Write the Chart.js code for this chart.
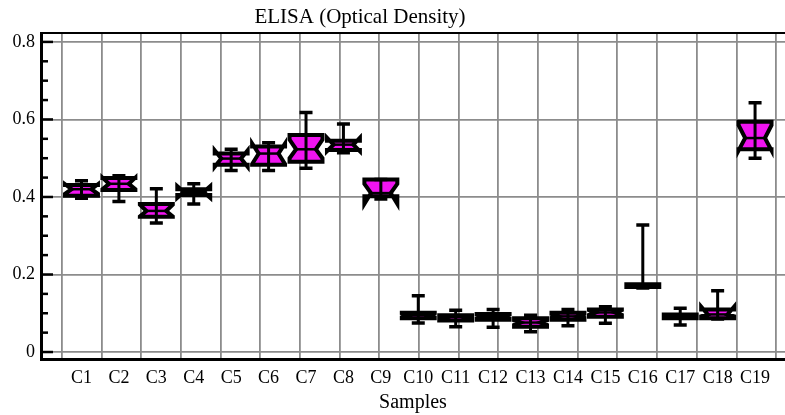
<!DOCTYPE html>
<html>
<head>
<meta charset="utf-8">
<script src="https://cdn.jsdelivr.net/npm/chart.js@4/dist/chart.umd.min.js"></script>
<style>
  html, body { margin: 0; padding: 0; background: #fff; }
  #wrap { width: 785px; height: 415px; }
</style>
</head>
<body>
<div id="wrap"><canvas id="elisaChart"></canvas></div>
<script>
// Samples and box statistics
const sampleLabels = ['C1', 'C2', 'C3', 'C4', 'C5', 'C6', 'C7', 'C8', 'C9', 'C10',
                      'C11', 'C12', 'C13', 'C14', 'C15', 'C16', 'C17', 'C18', 'C19'];
const whiskerLow  = [0.397, 0.388, 0.333, 0.382, 0.468, 0.468, 0.474, 0.514, 0.395, 0.075,
                     0.065, 0.064, 0.052, 0.068, 0.074, 0.165, 0.070, 0.085, 0.500];
const quartile1   = [0.403, 0.418, 0.349, 0.405, 0.483, 0.483, 0.491, 0.521, 0.402, 0.087,
                     0.081, 0.083, 0.065, 0.083, 0.091, 0.168, 0.087, 0.087, 0.523];
const medians     = [0.420, 0.434, 0.364, 0.413, 0.499, 0.512, 0.523, 0.535, 0.410, 0.095,
                     0.090, 0.090, 0.076, 0.092, 0.102, 0.172, 0.092, 0.097, 0.552];
const quartile3   = [0.431, 0.449, 0.382, 0.420, 0.512, 0.530, 0.560, 0.545, 0.445, 0.101,
                     0.095, 0.098, 0.087, 0.101, 0.110, 0.175, 0.097, 0.110, 0.594];
const whiskerHigh = [0.442, 0.455, 0.421, 0.434, 0.523, 0.540, 0.618, 0.588, 0.445, 0.145,
                     0.108, 0.110, 0.095, 0.110, 0.117, 0.328, 0.113, 0.158, 0.643];
const notchLow    = [0.408, 0.420, 0.350, 0.398, 0.478, 0.485, 0.500, 0.518, 0.382, 0.090,
                     0.086, 0.086, 0.070, 0.088, 0.096, 0.169, 0.089, 0.092, 0.520];
const notchHigh   = [0.433, 0.450, 0.380, 0.428, 0.520, 0.538, 0.548, 0.553, 0.434, 0.100,
                     0.094, 0.096, 0.082, 0.098, 0.108, 0.174, 0.095, 0.117, 0.585];

const yTickValues = [0, 0.05, 0.1, 0.15, 0.2, 0.25, 0.3, 0.35, 0.4, 0.45, 0.5,
                     0.55, 0.6, 0.65, 0.7, 0.75, 0.8];
const yTickLabels = ['0', '0.2', '0.4', '0.6', '0.8'];
const gridPositions = [0, 1, 2, 3, 4, 5, 6, 7, 8, 9, 10, 11, 12, 13, 14, 15, 16, 17, 18];

const chartTitle = 'ELISA (Optical Density)';
const serif = '"Liberation Serif", "Times New Roman", serif';
const boxColor = 'rgb(240, 20, 240)';

function isMajor(v) {
    return yTickLabels.indexOf(String(Math.round(v * 100) / 100)) !== -1;
}

// notched boxes, whiskers, frame and title
const notchedBoxes = {
    id: 'notchedBoxes',
    afterDatasetsDraw(chart) {
        const { ctx, chartArea, scales: { x, y } } = chart;
        const step = x.getPixelForValue(1) - x.getPixelForValue(0);
        const hw = step * 0.44;
        const indent = hw * 0.4;
        const capHw = 6.5;

        ctx.save();
        ctx.lineJoin = 'miter';
        sampleLabels.forEach(function(_, i) {
            const cx = x.getPixelForValue(i);
            const L = cx - hw, R = cx + hw;
            const yLo = y.getPixelForValue(whiskerLow[i]);
            const yQ1 = y.getPixelForValue(quartile1[i]);
            const yMed = y.getPixelForValue(medians[i]);
            const yQ3 = y.getPixelForValue(quartile3[i]);
            const yHi = y.getPixelForValue(whiskerHigh[i]);
            const yNLo = y.getPixelForValue(notchLow[i]);
            const yNHi = y.getPixelForValue(notchHigh[i]);

            ctx.beginPath();
            ctx.moveTo(L, yQ3);
            ctx.lineTo(R, yQ3);
            ctx.lineTo(R, yNHi);
            ctx.lineTo(R - indent, yMed);
            ctx.lineTo(R, yNLo);
            ctx.lineTo(R, yQ1);
            ctx.lineTo(L, yQ1);
            ctx.lineTo(L, yNLo);
            ctx.lineTo(L + indent, yMed);
            ctx.lineTo(L, yNHi);
            ctx.closePath();
            ctx.fillStyle = boxColor;
            ctx.fill();
            ctx.strokeStyle = '#000';
            ctx.lineWidth = 4;
            ctx.stroke();

            // median
            ctx.lineWidth = 2.5;
            ctx.beginPath();
            ctx.moveTo(L + indent, yMed);
            ctx.lineTo(R - indent, yMed);
            ctx.stroke();

            // whisker and caps
            ctx.lineWidth = 3;
            ctx.beginPath();
            ctx.moveTo(cx, yLo);
            ctx.lineTo(cx, yHi);
            ctx.stroke();
            ctx.lineWidth = 3.5;
            ctx.beginPath();
            ctx.moveTo(cx - capHw, yLo);
            ctx.lineTo(cx + capHw, yLo);
            ctx.moveTo(cx - capHw, yHi);
            ctx.lineTo(cx + capHw, yHi);
            ctx.stroke();
        });

        // inward ticks on the y axis
        ctx.strokeStyle = '#000';
        ctx.lineWidth = 2.5;
        yTickValues.forEach(function(v) {
            const py = y.getPixelForValue(v);
            ctx.beginPath();
            ctx.moveTo(chartArea.left, py);
            ctx.lineTo(chartArea.left + (isMajor(v) ? 12 : 7), py);
            ctx.stroke();
        });

        // top frame line
        ctx.lineWidth = 2;
        ctx.beginPath();
        ctx.moveTo(chartArea.left, chartArea.top);
        ctx.lineTo(chartArea.right, chartArea.top);
        ctx.stroke();

        // title
        ctx.fillStyle = '#000';
        ctx.font = '21px ' + serif;
        ctx.textAlign = 'center';
        ctx.textBaseline = 'middle';
        ctx.fillText(chartTitle, 360, 17);
        ctx.restore();
    }
};

const elisaChart = new Chart(document.getElementById('elisaChart'), {
    type: 'scatter',
    data: {
        datasets: [{
            label: 'Median',
            data: medians.map(function(m, i) { return { x: i, y: m }; }),
            pointRadius: 0,
            pointHoverRadius: 0
        }]
    },
    options: {
        responsive: true,
        maintainAspectRatio: false,
        animation: false,
        layout: { padding: { top: 33, right: 0, left: 0, bottom: 0 } },
        plugins: {
            legend: { display: false },
            tooltip: { enabled: false },
            title: { display: false }
        },
        scales: {
            x: {
                type: 'linear',
                position: 'bottom',
                min: -1.082,
                max: 18.8,
                afterBuildTicks: function(scale) {
                    scale.ticks = sampleLabels.map(function(_, i) { return { value: i }; });
                },
                afterFit: function(scale) { scale.height = 56; },
                grid: { display: false, drawTicks: false },
                border: { display: true, color: '#000', width: 3 },
                ticks: {
                    autoSkip: false,
                    maxRotation: 0,
                    padding: 8,
                    color: '#000',
                    font: { family: serif, size: 18 },
                    callback: function(v) { return sampleLabels[v]; }
                },
                title: {
                    display: true,
                    text: 'Samples',
                    color: '#000',
                    font: { family: serif, size: 20 },
                    padding: { top: 0, bottom: 0 }
                }
            },
            xGrid: {
                type: 'linear',
                position: 'top',
                min: -0.529,
                max: 18.225,
                afterBuildTicks: function(scale) {
                    scale.ticks = gridPositions.map(function(v) { return { value: v }; });
                },
                afterFit: function(scale) { scale.height = 0; },
                grid: { color: '#8c8c8c', lineWidth: 1.8, drawTicks: false },
                border: { display: false },
                ticks: { display: false }
            },
            y: {
                type: 'linear',
                min: -0.018,
                max: 0.823,
                afterBuildTicks: function(scale) {
                    scale.ticks = yTickValues.map(function(v) { return { value: v }; });
                },
                afterFit: function(scale) { scale.width = 41; },
                grid: {
                    drawTicks: false,
                    lineWidth: 1.8,
                    color: function(c) {
                        return c.tick && isMajor(c.tick.value) ? '#8c8c8c' : 'rgba(0,0,0,0)';
                    }
                },
                border: { display: true, color: '#000', width: 3 },
                ticks: {
                    padding: 6,
                    color: '#000',
                    font: { family: serif, size: 18 },
                    callback: function(v) {
                        return isMajor(v) ? String(Math.round(v * 100) / 100) : '';
                    }
                }
            }
        }
    },
    plugins: [notchedBoxes]
});
</script>
</body>
</html>
